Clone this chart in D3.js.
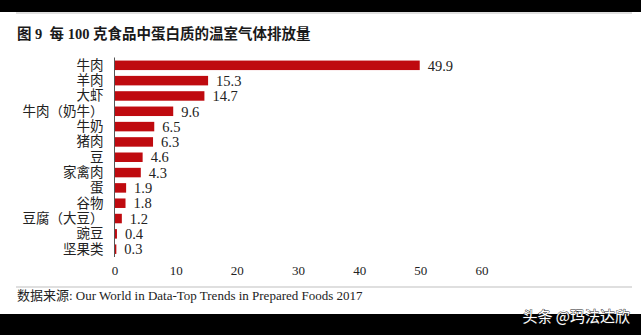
<!DOCTYPE html>
<html>
<head>
<meta charset="utf-8">
<script src="https://cdn.jsdelivr.net/npm/d3@7"></script>
<style>
  html, body { margin: 0; padding: 0; background: #fff; }
  svg { display: block; }
  text { white-space: pre; }
</style>
</head>
<body>
<div id="chart"></div>
<script>
// Greenhouse gas emissions per 100 g of protein, by food
const categories = ["牛肉", "羊肉", "大虾", "牛肉（奶牛）", "牛奶", "猪肉", "豆", "家禽肉", "蛋", "谷物", "豆腐（大豆）", "豌豆", "坚果类"];
const values = [49.9, 15.3, 14.7, 9.6, 6.5, 6.3, 4.6, 4.3, 1.9, 1.8, 1.2, 0.4, 0.3];
const tickValues = [0, 10, 20, 30, 40, 50, 60];

const W = 641, H = 335;
const serif = "'Liberation Serif', 'Times New Roman', 'Noto Sans CJK SC', serif";

const svg = d3.select("#chart").append("svg")
  .attr("width", W).attr("height", H);

// Black frame bands at the top and bottom
svg.append("rect").attr("x", 0).attr("y", 0).attr("width", W).attr("height", 12).attr("fill", "#000");
svg.append("rect").attr("x", 0).attr("y", 314).attr("width", W).attr("height", H - 314).attr("fill", "#000");

// Thin rules under the title and above the source note
svg.append("line").attr("x1", 16).attr("x2", 632).attr("y1", 13).attr("y2", 13)
  .attr("stroke", "#d4d4d4").attr("stroke-width", 1.5);
svg.append("line").attr("x1", 16).attr("x2", 632).attr("y1", 287).attr("y2", 287)
  .attr("stroke", "#d4d4d4").attr("stroke-width", 1.5);

// Title
svg.append("text")
  .attr("x", 17).attr("y", 38.5)
  .attr("font-family", serif)
  .attr("font-size", 14.5).attr("font-weight", "bold").attr("fill", "#1a1a1a")
  .text("图 9  每 100 克食品中蛋白质的温室气体排放量");

// Scales
const x = d3.scaleLinear().domain([0, 60]).range([114.5, 481.5]);
const y = d3.scaleBand().domain(categories).range([57.5, 257]).paddingInner(0.38).paddingOuter(0.2);

// Bars
svg.append("g").selectAll("rect")
  .data(categories)
  .join("rect")
  .attr("x", x(0))
  .attr("y", d => y(d))
  .attr("width", (d, i) => x(values[i]) - x(0))
  .attr("height", y.bandwidth())
  .attr("fill", "#bf0a0f");

// Value labels
svg.append("g").selectAll("text")
  .data(categories)
  .join("text")
  .attr("x", (d, i) => x(values[i]) + 8)
  .attr("y", d => y(d) + y.bandwidth() / 2)
  .attr("dy", "0.36em")
  .attr("font-family", serif)
  .attr("font-size", 14.5).attr("fill", "#222")
  .text((d, i) => values[i]);

// Category axis (left)
const yAxis = svg.append("g")
  .attr("transform", `translate(${x(0)},0)`)
  .call(d3.axisLeft(y).tickSize(0).tickPadding(11));
yAxis.select(".domain").attr("stroke", "#555").attr("stroke-width", 1)
  .attr("d", `M0,${y.range()[0]}V${y.range()[1]}`);
yAxis.selectAll("text")
  .attr("font-family", serif)
  .attr("font-size", 13.5).attr("fill", "#222");

// Value axis (bottom, labels only)
const xAxis = svg.append("g")
  .attr("transform", "translate(0,263)")
  .call(d3.axisBottom(x).tickValues(tickValues).tickSize(0).tickPadding(3));
xAxis.select(".domain").remove();
xAxis.selectAll("text")
  .attr("font-family", serif)
  .attr("font-size", 13).attr("fill", "#222");

// Source note
svg.append("text")
  .attr("x", 17).attr("y", 300)
  .attr("font-family", serif)
  .attr("font-size", 13).attr("fill", "#222")
  .text("数据来源: Our World in Data-Top Trends in Prepared Foods 2017");

// Watermark
svg.append("text")
  .attr("x", 630).attr("y", 322)
  .attr("text-anchor", "end")
  .attr("font-family", "'Noto Sans CJK SC', sans-serif")
  .attr("font-size", 15).attr("fill", "#fff")
  .attr("stroke", "#222").attr("stroke-width", 0.8).attr("paint-order", "stroke")
  .text("头条 @玛法达欣");
</script>
</body>
</html>
